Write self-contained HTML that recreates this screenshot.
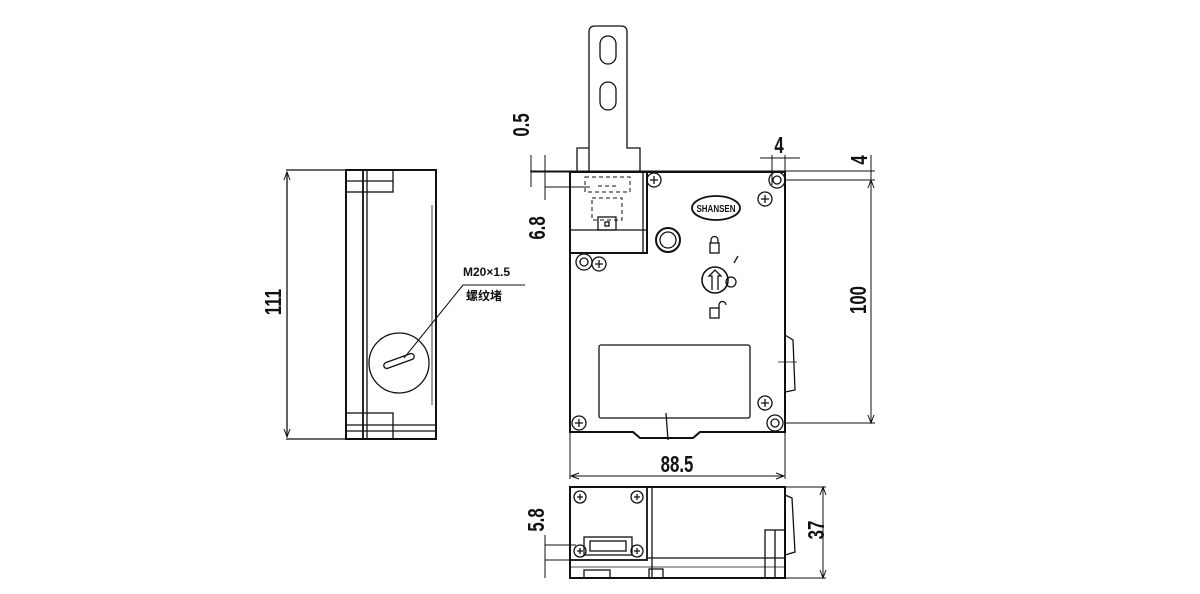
<!DOCTYPE html>
<html><head><meta charset="utf-8"><style>
html,body{margin:0;padding:0;background:#fff;width:1200px;height:594px;overflow:hidden}
text{font-family:"Liberation Sans","Noto Sans CJK SC",sans-serif;font-weight:bold;fill:#111}
</style></head><body>
<svg width="1200" height="594" viewBox="0 0 1200 594" xmlns="http://www.w3.org/2000/svg">
<g fill="none" stroke="#111" stroke-width="1.3">
<line x1="286" y1="170" x2="346" y2="170"/>
<line x1="286" y1="439" x2="346" y2="439"/>
<line x1="287" y1="172" x2="287" y2="437"/>
<path d="M284 180 L287 172 L290 180 M284 429 L287 437 L290 429" stroke-width="1"/>
<rect x="346" y="170" width="90" height="269" stroke-width="2"/>
<line x1="363" y1="170" x2="363" y2="439" stroke-width="1.8"/>
<line x1="367" y1="170" x2="367" y2="439"/>
<rect x="346" y="170" width="47" height="22"/>
<line x1="346" y1="181" x2="393" y2="181"/>
<rect x="346" y="413" width="47" height="26"/>
<line x1="346" y1="425" x2="436" y2="425"/>
<line x1="346" y1="431" x2="436" y2="431"/>
<line x1="432" y1="205" x2="432" y2="405" stroke-width="0.8"/>
<circle cx="399" cy="363" r="30"/>
<rect x="383" y="358" width="32" height="6" rx="3" transform="rotate(-20 399 361)"/>
<polyline points="404,358 463,285 525,285" stroke-width="1"/>
<path d="M589 171 V32 Q589 26 595 26 H621 Q627 26 627 32 V148 H640 V171"/>
<path d="M589 148 H577 V171"/>
<rect x="600" y="36" width="16" height="28" rx="8"/>
<rect x="600" y="82" width="16" height="28" rx="8"/>
<line x1="530" y1="171" x2="875" y2="171" stroke-width="1"/>
<path d="M570 172 H785 V432 H700 L693 438 H640 L633 432 H570 Z" stroke-width="2"/>
<rect x="570" y="172" width="77" height="81" stroke-width="2"/>
<line x1="570" y1="230" x2="647" y2="230"/>
<line x1="643" y1="172" x2="643" y2="253"/>
<g stroke-dasharray="4,3" stroke-width="1">
<rect x="585" y="177" width="45" height="15"/>
<rect x="592" y="198" width="30" height="22"/>
<line x1="598" y1="186" x2="616" y2="186"/>
</g>
<rect x="598" y="217" width="18" height="13"/>
<rect x="605" y="222" width="4" height="4"/>
<circle cx="654" cy="180" r="7"/><path d="M650 180h8M654 176v8"/>
<circle cx="584" cy="262" r="8"/><circle cx="584" cy="262" r="4"/>
<circle cx="599" cy="264" r="7"/><path d="M595 264h8M599 260v8"/>
<circle cx="777" cy="180" r="8"/><circle cx="777" cy="180" r="4"/>
<circle cx="765" cy="199" r="7"/><path d="M761 199h8M765 195v8"/>
<circle cx="765" cy="403" r="7"/><path d="M761 403h8M765 399v8"/>
<circle cx="775" cy="423" r="8"/><circle cx="775" cy="423" r="4"/>
<circle cx="579" cy="423" r="7"/><path d="M575 423h8M579 419v8"/>
<circle cx="668" cy="240" r="12" stroke-width="2"/>
<circle cx="668" cy="240" r="8"/>
<ellipse cx="716" cy="208" rx="24" ry="12" stroke-width="1.8"/>
<rect x="710" y="243" width="9" height="10"/><path d="M711 243 v-3 a3.5 3.5 0 0 1 7 0 v3"/>
<circle cx="715" cy="280" r="13" stroke-width="1.6"/>
<path d="M712 290 V276 H709 L715 270 L721 276 H718 V290"/>
<circle cx="731" cy="282" r="5"/>
<line x1="734" y1="263" x2="738" y2="256"/>
<rect x="710" y="308" width="9" height="10"/><path d="M719 308 v-3 a3.5 3.5 0 0 1 7 0"/>
<rect x="599" y="345" width="151" height="73" rx="2"/>
<line x1="666" y1="413" x2="668" y2="440"/>
<path d="M785 335 L793 340 L795 390 L785 392"/>
<line x1="778" y1="362" x2="797" y2="362" stroke-width="0.8"/>
<line x1="570" y1="432" x2="570" y2="479" stroke-width="1"/>
<line x1="785" y1="432" x2="785" y2="479" stroke-width="1"/>
<line x1="571" y1="476" x2="784" y2="476" stroke-width="1"/>
<path d="M579 473 L571 476 L579 479 M776 473 L784 476 L776 479" stroke-width="1"/>
<line x1="785" y1="180" x2="875" y2="180" stroke-width="1"/>
<line x1="785" y1="423" x2="875" y2="423" stroke-width="1"/>
<line x1="871" y1="155" x2="871" y2="423" stroke-width="1"/>
<path d="M868 188 L871 180 L874 188 M868 415 L871 423 L874 415" stroke-width="1"/>
<line x1="772" y1="155" x2="772" y2="185" stroke-width="1"/>
<line x1="785" y1="155" x2="785" y2="172" stroke-width="1"/>
<line x1="760" y1="158" x2="800" y2="158" stroke-width="1"/>
<line x1="531" y1="155" x2="531" y2="187" stroke-width="1"/>
<line x1="531" y1="172" x2="570" y2="172" stroke-width="1"/>
<line x1="545" y1="155" x2="545" y2="200" stroke-width="1"/>
<line x1="545" y1="187" x2="590" y2="187" stroke-width="1"/>
<rect x="570" y="487" width="215" height="91" stroke-width="2"/>
<rect x="570" y="487" width="77" height="73" stroke-width="1.8"/>
<line x1="652" y1="487" x2="652" y2="578"/>
<line x1="647" y1="558" x2="785" y2="558"/>
<line x1="570" y1="567" x2="785" y2="567" stroke-width="0.8"/>
<rect x="584" y="537" width="48" height="18"/>
<rect x="590" y="541" width="36" height="10"/>
<circle cx="580" cy="497" r="6"/><path d="M577 497h6M580 494v6"/>
<circle cx="637" cy="497" r="6"/><path d="M634 497h6M637 494v6"/>
<circle cx="580" cy="551" r="6"/><path d="M577 551h6M580 548v6"/>
<circle cx="637" cy="551" r="6"/><path d="M634 551h6M637 548v6"/>
<rect x="584" y="570" width="26" height="8"/>
<rect x="649" y="569" width="14" height="9"/>
<rect x="765" y="530" width="20" height="48"/>
<line x1="775" y1="530" x2="775" y2="578"/>
<path d="M785 495 L792 498 L795 552 L785 555"/>
<line x1="785" y1="487" x2="826" y2="487" stroke-width="1"/>
<line x1="785" y1="578" x2="826" y2="578" stroke-width="1"/>
<line x1="823" y1="487" x2="823" y2="578" stroke-width="1"/>
<path d="M820 495 L823 487 L826 495 M820 570 L823 578 L826 570" stroke-width="1"/>
<line x1="545" y1="545" x2="576" y2="545" stroke-width="1"/>
<line x1="545" y1="560" x2="576" y2="560" stroke-width="1"/>
<line x1="545" y1="535" x2="545" y2="578" stroke-width="1"/>
</g>
<text x="463" y="276" font-size="12">M20×1.5</text>
<text x="466" y="300" font-size="12">螺纹堵</text>
<text transform="translate(281 302) rotate(-90) scale(0.8 1.1)" font-size="21" text-anchor="middle">111</text>
<text transform="translate(677 472) scale(0.8 1.1)" font-size="21" text-anchor="middle">88.5</text>
<text transform="translate(866 300) rotate(-90) scale(0.8 1.1)" font-size="21" text-anchor="middle">100</text>
<text transform="translate(779 153) scale(0.8 1.1)" font-size="21" text-anchor="middle">4</text>
<text transform="translate(867 160) rotate(-90) scale(0.8 1.1)" font-size="21" text-anchor="middle">4</text>
<text transform="translate(529 125) rotate(-90) scale(0.8 1.1)" font-size="21" text-anchor="middle">0.5</text>
<text transform="translate(545 228) rotate(-90) scale(0.8 1.1)" font-size="21" text-anchor="middle">6.8</text>
<text transform="translate(544 520) rotate(-90) scale(0.8 1.1)" font-size="21" text-anchor="middle">5.8</text>
<text transform="translate(824 530) rotate(-90) scale(0.8 1.1)" font-size="21" text-anchor="middle">37</text>
<text transform="translate(716 212) scale(0.8 1)" font-size="10" text-anchor="middle">SHANSEN</text>
</svg>
</body></html>
